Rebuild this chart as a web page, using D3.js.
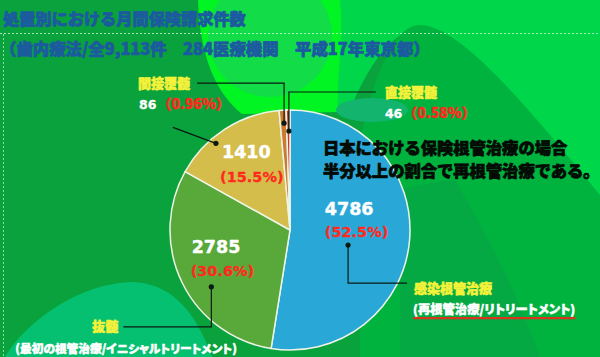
<!DOCTYPE html>
<html><head><meta charset="utf-8">
<script src="https://cdn.jsdelivr.net/npm/d3@7"></script>
<style>body{margin:0;overflow:hidden;background:#0aa23c} .palt{font-feature-settings:"palt" 1;}</style>
</head><body><svg id="c" width="600" height="357"></svg>
<script>
// ---- data ----
const categories = ["感染根管治療", "抜髄", "", "間接覆髄", "直接覆髄"];
const values = [4786, 2785, 1410, 86, 46];
const percentLabels = ["(52.5%)", "(30.6%)", "(15.5%)", "（0.96%）", "（0.58%）"];
const subLabels = ["(再根管治療/リトリートメント)", "(最初の根管治療/イニシャルトリートメント)", "", "", ""];
const sliceColors = ["#29a8d8", "#58a83a", "#d4bd4a", "#cc7a30", "#d43020"];
const titleText = "処置別における月間保険請求件数";
const subtitleText = "（歯内療法/全9,113件　284医療機関　平成17年東京都）";
const noteLines = ["日本における保険根管治療の場合", "半分以上の割合で再根管治療である。"];

// ---- layout ----
const W = 600, H = 357, cx = 290, cy = 230, R = 120;
const JP = "'Noto Sans CJK JP','Noto Sans',sans-serif";
const NUM = "'DejaVu Sans',sans-serif";
const layout = [
  {t: .553, r: 60, leg: [[0, 38], [59, 0]], name: [7, 10, "start"], sub: [6, 31], subSize: 12.3, big: true, v: [-31, -20], p: [-31, 2]},
  {t: .41, r: 97, leg: [[0, 40], [-88, 0]], name: [-5, 4, "end"], sub: [-108, 26], subSize: 11.7, big: true, v: [-39, -6], p: [-40, 17]},
  {t: .366, r: 114, leg: [[-43, -16]], big: true, v: [-32, -17], p: [-34, 7]},
  {t: .6, r: 107, leg: [[0, -40], [-87, 0]], name: [-7, 5, "end"], small: [-58, 26]},
  {t: .65, r: 99, leg: [[0, -39], [87, 0]], name: [9, 5, "start"], small: [9, 26]}
];

const svg = d3.select("#c");
function heavy(sel, color, w) {
  return sel.attr("fill", color).attr("stroke", color).attr("stroke-width", w).attr("stroke-linejoin", "round");
}

// ---- background ----
const bg = svg.append("g");
bg.append("rect").attr("width", W).attr("height", H).attr("fill", "#0aa23c");
bg.append("path").attr("fill", "#00d64a")
  .attr("d", "M330 0 H600 V215 C560 160 500 80 430 30 C400 20 370 60 350 110 L330 110 Z");
bg.append("path").attr("fill", "#00b23e")
  .attr("d", "M360 140 C375 70 395 25 420 25 C460 25 530 110 600 195 V357 H360 Z");
bg.append("path").attr("fill", "#05a944")
  .attr("d", "M400 190 C430 182 450 180 455 180 C490 240 520 300 540 357 H400 Z");
bg.append("path").attr("fill", "#00f522")
  .attr("d", "M198 0 H340 C344 40 336 80 338 112 L242 114 C218 95 200 60 198 0 Z");
bg.append("ellipse").attr("cx", 270).attr("cy", 36).attr("rx", 62).attr("ry", 61).attr("fill", "#12dc48");
bg.append("ellipse").attr("cx", 372).attr("cy", 110).attr("rx", 36).attr("ry", 12).attr("fill", "#12b46e");
bg.append("path").attr("fill", "#04c070")
  .attr("d", "M5 357 C20 330 70 285 130 282 C170 282 195 310 212 357 Z");

// frame dotted lines
bg.append("line").attr("x1", 0).attr("x2", W).attr("y1", 33.5).attr("y2", 33.5)
  .attr("stroke", "#e8ffe8").attr("stroke-opacity", .7).attr("stroke-dasharray", "2,2");
bg.append("line").attr("x1", 3.5).attr("x2", 3.5).attr("y1", 34).attr("y2", H)
  .attr("stroke", "#e8ffe8").attr("stroke-opacity", .6).attr("stroke-dasharray", "2,2");

// ---- titles ----
heavy(svg.append("text").attr("x", 3).attr("y", 25).text(titleText)
  .attr("font-family", JP).attr("font-weight", 900).attr("font-size", 16.2), "#1c5aa0", 0.7);
heavy(svg.append("text").attr("x", 0).attr("y", 55).text(subtitleText)
  .attr("font-family", JP).attr("font-weight", 900).attr("font-size", 16.4), "#1c5aa0", 0.7);

// ---- pie ----
const pie = d3.pie().sort(null).value(d => d)(values);
const arc = d3.arc().innerRadius(0).outerRadius(R);
const labelArc = d3.arc().innerRadius(66).outerRadius(66);
const g = svg.append("g").attr("transform", `translate(${cx},${cy})`);
g.selectAll("path.s").data(pie).join("path").attr("class", "s")
  .attr("d", arc).attr("fill", (d, i) => sliceColors[i])
  .attr("stroke", "#eef4e6").attr("stroke-width", 1.5).attr("stroke-linejoin", "round");

pie.forEach((d, i) => {
  const L = layout[i];
  if (!L.big) return;
  const [lx, ly] = labelArc.centroid(d);
  heavy(g.append("text").attr("x", lx + L.v[0]).attr("y", ly + L.v[1]).text(values[i])
    .attr("font-family", NUM).attr("font-weight", "bold").attr("font-size", 17.5), "#fff", 0.4);
  heavy(g.append("text").attr("x", lx + L.p[0]).attr("y", ly + L.p[1]).text(percentLabels[i])
    .attr("font-family", NUM).attr("font-weight", "bold").attr("font-size", 14.5), "#ff2a1e", 0.3);
});

pie.forEach((d, i) => {
  const L = layout[i];
  const a = d.startAngle + L.t * (d.endAngle - d.startAngle);
  let x = cx + L.r * Math.sin(a), y = cy - L.r * Math.cos(a);
  const pts = [[x, y]];
  L.leg.forEach(([dx, dy]) => { x += dx; y += dy; pts.push([x, y]); });
  svg.append("path").attr("d", d3.line()(pts)).attr("fill", "none")
    .attr("stroke", "#0a1a10").attr("stroke-width", 1.2);
  svg.append("circle").attr("cx", pts[0][0]).attr("cy", pts[0][1]).attr("r", 2.6).attr("fill", "#0a1a10");
  if (L.name && categories[i]) {
    heavy(svg.append("text").attr("x", x + L.name[0]).attr("y", y + L.name[1]).attr("text-anchor", L.name[2])
      .text(categories[i]).attr("font-family", JP).attr("font-weight", 900).attr("font-size", 13), "#f4f23a", 0.6);
  }
  if (L.sub && subLabels[i]) {
    const t = heavy(svg.append("text").attr("class", "palt").attr("x", x + L.sub[0]).attr("y", y + L.sub[1])
      .text(subLabels[i]).attr("font-family", JP).attr("font-weight", 900).attr("font-size", L.subSize), "#fff", 0.5);
    if (i === 0) {
      const len = t.node().getComputedTextLength();
      svg.append("line").attr("x1", x + L.sub[0]).attr("x2", x + L.sub[0] + len)
        .attr("y1", y + L.sub[1] + 4).attr("y2", y + L.sub[1] + 4)
        .attr("stroke", "#d8341e").attr("stroke-width", 2.2);
    }
  }
  if (L.small) {
    const vx = x + L.small[0], vy = y + L.small[1];
    const vt = heavy(svg.append("text").attr("x", vx).attr("y", vy).text(values[i])
      .attr("font-family", NUM).attr("font-weight", "bold").attr("font-size", 12.5), "#fff", 0.3);
    const len = vt.node().getComputedTextLength();
    heavy(svg.append("text").attr("x", vx + len + 1).attr("y", vy).text(percentLabels[i])
      .attr("font-family", JP).attr("font-weight", 900).attr("font-size", 14), "#ff2a1e", 0.4);
  }
});

noteLines.forEach((s, i) => {
  svg.append("text").attr("x", 323).attr("y", 154 + i * 23).text(s)
    .attr("font-family", JP).attr("font-weight", 900).attr("font-size", 16.3).attr("fill", "#050a05")
    .attr("stroke", "#050a05").attr("stroke-width", 0.7);
});
</script></body></html>
